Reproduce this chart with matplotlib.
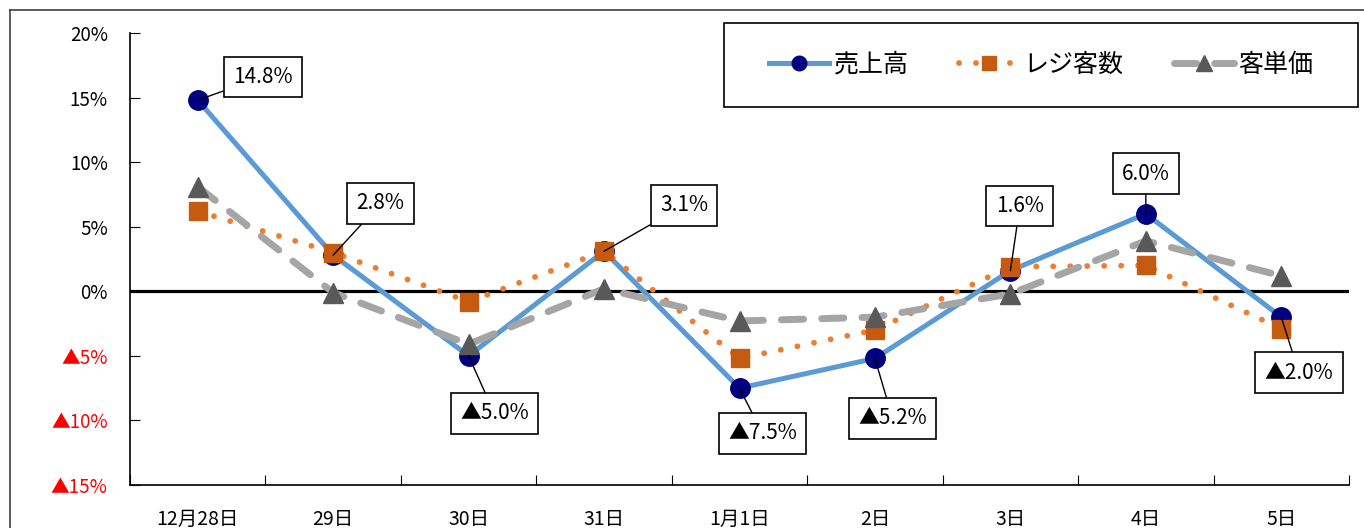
import matplotlib
matplotlib.use("Agg")
import matplotlib.pyplot as plt
from matplotlib.lines import Line2D
from matplotlib.patches import Rectangle

plt.rcParams['font.family'] = ['Noto Sans CJK JP', 'DejaVu Sans']

days = ['12月28日', '29日', '30日', '31日', '1月1日', '2日', '3日', '4日', '5日']
sales = [14.8, 2.8, -5.0, 3.1, -7.5, -5.2, 1.6, 6.0, -2.0]
customers = [6.2, 3.0, -0.8, 3.1, -5.2, -3.0, 1.9, 2.0, -2.9]
unit_price = [8.1, -0.1, -4.1, 0.2, -2.3, -2.0, -0.2, 3.9, 1.2]
yticks = [-15, -10, -5, 0, 5, 10, 15, 20]

# label positions (data coords) for the sales annotations
label_pos = [(0.48, 16.6), (1.35, 6.8), (2.19, -9.45), (3.59, 6.65), (4.17, -11.0),
             (5.13, -9.85), (6.07, 6.6), (7.0, 9.1), (8.13, -6.3)]


def pct(v, dec=1):
    s = f"{abs(v):.{dec}f}%"
    return ("▲" + s) if v < 0 else s


fig = plt.figure(figsize=(13.64, 5.28), dpi=100)
ax = fig.add_axes([130 / 1364, 1 - 485 / 528, (1349 - 130) / 1364, (485 - 33) / 528])

x = list(range(len(days)))
ax.axhline(0, color='black', lw=2.3, zorder=1)

ax.plot(x, sales, color='#5B9BD5', lw=3.6, marker='o', ms=14,
        mfc='#000080', mec='#000080', zorder=3, label='売上高')
ax.plot(x, customers, color='#ED7D31', lw=4.2, linestyle=(0, (0.01, 2.9)),
        dash_capstyle='round', marker='s', ms=13, mfc='#C55A11', mec='#C55A11',
        zorder=4, label='レジ客数')
ax.plot(x, unit_price, color='#A5A5A5', lw=5, linestyle=(0, (3.2, 2.6)),
        dash_capstyle='round', marker='^', ms=15, mfc='#595959', mec='#595959',
        zorder=5, label='客単価')

for i, v in enumerate(sales):
    tx, ty = label_pos[i]
    ax.annotate(pct(v), xy=(i, v), xytext=(tx, ty), ha='center', va='center',
                fontsize=15, zorder=6,
                bbox=dict(boxstyle='square,pad=0.45', fc='white', ec='black', lw=1.2),
                arrowprops=dict(arrowstyle='-', color='black', lw=1, shrinkA=0, shrinkB=0))

ax.set_xlim(-0.5, len(days) - 0.5)
ax.set_ylim(-15, 20)
ax.set_yticks(yticks)
ax.set_yticklabels([pct(v, 0) if v != 0 else '0%' for v in yticks], fontsize=13.5)
for lab, v in zip(ax.get_yticklabels(), yticks):
    if v < 0:
        lab.set_color('red')
ax.tick_params(axis='y', direction='in', length=7, pad=16)

ax.set_xticks([i - 0.5 for i in range(len(days) + 1)])
ax.set_xticklabels([])
ax.set_xticks(x, minor=True)
ax.set_xticklabels(days, minor=True, fontsize=14)
ax.tick_params(axis='x', which='major', direction='in', length=7)
ax.tick_params(axis='x', which='minor', length=0, pad=17)

for s in ['top', 'right']:
    ax.spines[s].set_visible(False)
for s in ['left', 'bottom']:
    ax.spines[s].set_color('black')
    ax.spines[s].set_linewidth(1.2)

# legend box
lx0, ly0, lx1, ly1 = 724, 23, 1358, 107
fig.add_artist(Rectangle((lx0 / 1364, 1 - ly1 / 528), (lx1 - lx0) / 1364, (ly1 - ly0) / 528,
                         transform=fig.transFigure, fill=False, ec='black', lw=1.2))
handles, labels = ax.get_legend_handles_labels()
fig.legend(handles, labels, loc='center', ncol=3, frameon=False, fontsize=18,
           bbox_to_anchor=((lx0 + lx1) / 2 / 1364, 1 - (ly0 + ly1) / 2 / 528),
           handlelength=2.4, columnspacing=2.0, handletextpad=0.2, markerscale=0.75)

# outer chart frame
fig.add_artist(Line2D([10 / 1364, 1], [1 - 10 / 528, 1 - 10 / 528], color='#404040', lw=1.2))
fig.add_artist(Line2D([10 / 1364, 10 / 1364], [0, 1 - 10 / 528], color='#404040', lw=1.2))

fig.savefig('out.png', dpi=100)
